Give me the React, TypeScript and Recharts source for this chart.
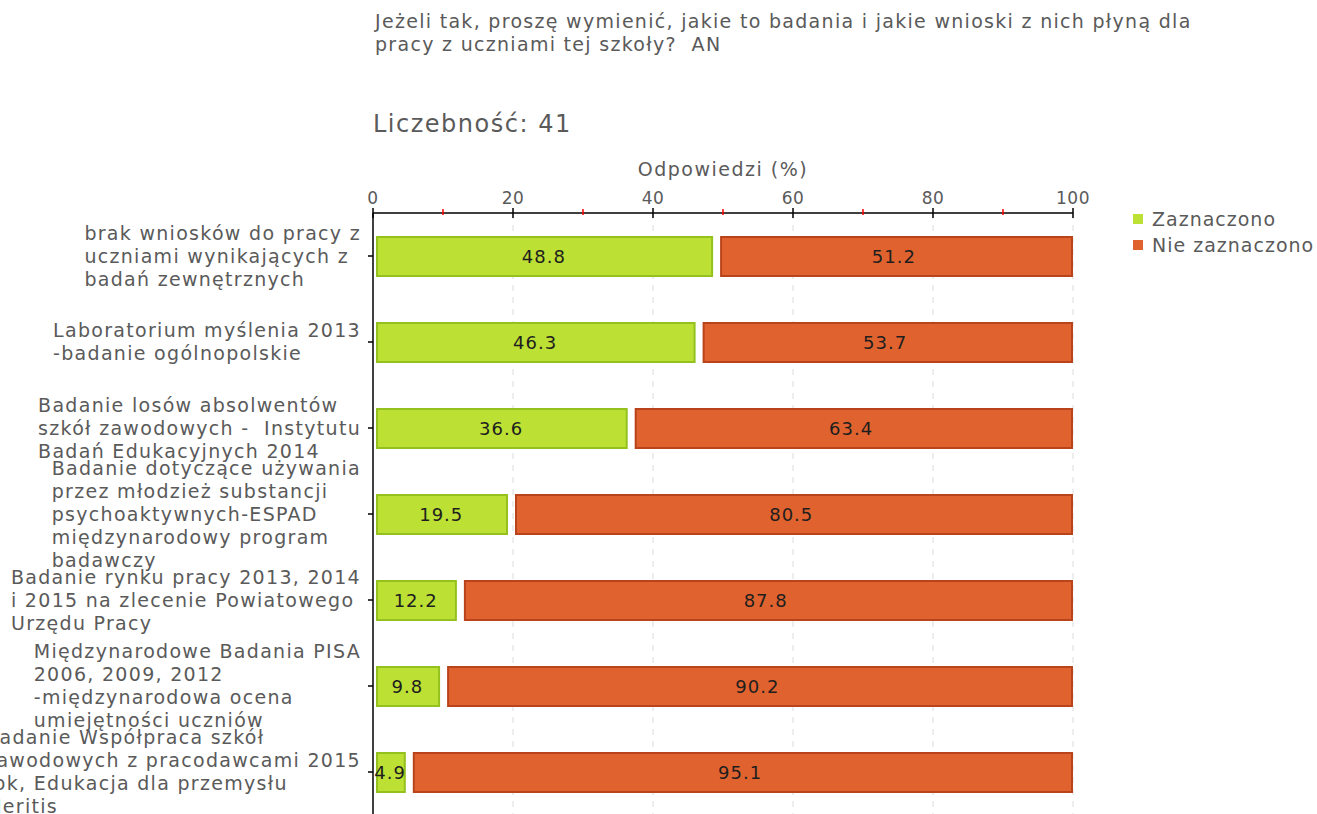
import React from "react";
import {
  BarChart,
  Bar,
  XAxis,
  YAxis,
  CartesianGrid,
  LabelList,
} from "recharts";

// question text + sample size
const titleLines = [
  "Jeżeli tak, proszę wymienić, jakie to badania i jakie wnioski z nich płyną dla",
  "pracy z uczniami tej szkoły?  AN",
];
const countLabel = "Liczebność: 41";
const axisTitle = "Odpowiedzi (%)";

// categories (line breaks as in the original wrapping)
const categories = [
  "brak wniosków do pracy z\nuczniami wynikających z\nbadań zewnętrznych",
  "Laboratorium myślenia 2013\n-badanie ogólnopolskie",
  "Badanie losów absolwentów\nszkół zawodowych -  Instytutu\nBadań Edukacyjnych 2014",
  "Badanie dotyczące używania\nprzez młodzież substancji\npsychoaktywnych-ESPAD\nmiędzynarodowy program\nbadawczy",
  "Badanie rynku pracy 2013, 2014\ni 2015 na zlecenie Powiatowego\nUrzędu Pracy",
  "Międzynarodowe Badania PISA\n2006, 2009, 2012\n-międzynarodowa ocena\numiejętności uczniów",
  "Badanie Współpraca szkół\nzawodowych z pracodawcami 2015\nrok, Edukacja dla przemysłu\nMeritis",
];
const zaznaczono = [48.8, 46.3, 36.6, 19.5, 12.2, 9.8, 4.9];
const nieZaznaczono = [51.2, 53.7, 63.4, 80.5, 87.8, 90.2, 95.1];

const xTicks = [0, 10, 20, 30, 40, 50, 60, 70, 80, 90, 100];
const gridValues = [20, 40, 60, 80, 100];

const seriesNames = ["Zaznaczono", "Nie zaznaczono"];

const data = categories.map((name, i) => ({
  name,
  Zaznaczono: zaznaczono[i],
  "Nie zaznaczono": nieZaznaczono[i],
}));

const FONT = '"DejaVu Sans", Verdana, sans-serif';
const TEXT = "#5a5a5a";
const GREEN = "#bde034";
const GREEN_EDGE = "#94c11e";
const ORANGE = "#e0632f";
const ORANGE_EDGE = "#b9441b";
const LABEL_SPACING = 1.3;

// measure label lines so each block is left aligned but hugs the axis
const ctx = document.createElement("canvas").getContext("2d")!;
ctx.font = `19px ${FONT}`;
(ctx as any).letterSpacing = `${LABEL_SPACING}px`;
const textWidth = (s: string) => ctx.measureText(s).width;

const CategoryTick = (props: any) => {
  const { x, y, payload } = props;
  const lines: string[] = String(payload.value).split("\n");
  const w = Math.max(...lines.map(textWidth));
  const lh = 23;
  const y0 = y - ((lines.length - 1) * lh) / 2;
  return (
    <g>
      {lines.map((l, i) => (
        <text
          key={i}
          x={x - w}
          y={y0 + i * lh}
          dy="0.36em"
          fontSize={19}
          letterSpacing={LABEL_SPACING}
          fill={TEXT}
          style={{ whiteSpace: "pre" }}>
          {l}
        </text>
      ))}
    </g>
  );
};

// top axis: black majors with labels, short red minors
const ValueTick = (props: any) => {
  const { x, y, payload } = props;
  const v = payload.value as number;
  if (v % 20 !== 0) {
    return <line x1={x} x2={x} y1={y - 4} y2={y + 2} stroke="#ff0000" strokeWidth={1.5} />;
  }
  return (
    <g>
      <line x1={x} x2={x} y1={y - 5} y2={y + 5} stroke="#000" strokeWidth={1.5} />
      <text x={x} y={y - 9} textAnchor="middle" fontSize={17} letterSpacing={0.5} fill={TEXT}>
        {v}
      </text>
    </g>
  );
};

const GreenBar = (p: any) => {
  const left = p.x + 3;
  const right = p.x + p.width - 1.5;
  return (
    <rect
      x={left + 1}
      y={p.y + 1}
      width={Math.max(right - left - 2, 0)}
      height={p.height - 2}
      fill={GREEN}
      stroke={GREEN_EDGE}
      strokeWidth={2}
    />
  );
};

const OrangeBar = (p: any) => {
  const left = p.x + 5.5;
  const right = p.x + p.width;
  return (
    <rect
      x={left + 1}
      y={p.y + 1}
      width={Math.max(right - left - 2, 0)}
      height={p.height - 2}
      fill={ORANGE}
      stroke={ORANGE_EDGE}
      strokeWidth={2}
    />
  );
};

export default function App() {
  return (
    <div
      style={{
        position: "absolute",
        left: 0,
        top: 0,
        width: 1317,
        height: 814,
        overflow: "hidden",
        background: "#fff",
        fontFamily: FONT,
      }}>
      <div
        style={{
          position: "absolute",
          left: 375,
          top: 10,
          fontSize: 19,
          lineHeight: "23px",
          letterSpacing: 1.3,
          color: TEXT,
          whiteSpace: "pre",
        }}>
        {titleLines.join("\n")}
      </div>
      <div
        style={{
          position: "absolute",
          left: 373,
          top: 110,
          fontSize: 24,
          letterSpacing: 1.5,
          color: TEXT,
          whiteSpace: "pre",
        }}>
        {countLabel}
      </div>
      <div
        style={{
          position: "absolute",
          left: 1133,
          top: 206,
          fontSize: 19,
          letterSpacing: 1,
          color: TEXT,
        }}>
        {seriesNames.map((n, i) => (
          <div key={n} style={{ display: "flex", alignItems: "center", height: 26 }}>
            <span
              style={{
                width: 10,
                height: 10,
                marginRight: 9,
                background: i === 0 ? GREEN : ORANGE,
                display: "inline-block",
              }}
            />
            <span>{n}</span>
          </div>
        ))}
      </div>
      <BarChart
        width={1317}
        height={830}
        data={data}
        layout="vertical"
        barSize={41}
        margin={{ top: 157, right: 244, left: 13, bottom: 15 }}
        style={{ fontFamily: FONT }}>
        <CartesianGrid
          horizontal={false}
          verticalValues={gridValues}
          stroke="#dcdcdc"
          strokeDasharray="6 6"
        />
        <XAxis
          type="number"
          orientation="top"
          domain={[0, 100]}
          ticks={xTicks}
          interval={0}
          height={56}
          tickSize={0}
          tickMargin={0}
          tickLine={false}
          axisLine={{ stroke: "#000", strokeWidth: 1.5 }}
          tick={<ValueTick />}
          label={{
            value: axisTitle,
            position: "insideTop",
            offset: 6,
            fill: TEXT,
            fontSize: 19,
            letterSpacing: 1.5,
          }}
        />
        <YAxis
          type="category"
          dataKey="name"
          width={360}
          interval={0}
          tickSize={5}
          tickMargin={7}
          tickLine={{ stroke: "#000", strokeWidth: 1.5 }}
          axisLine={{ stroke: "#000", strokeWidth: 1.5 }}
          tick={<CategoryTick />}
        />
        <Bar dataKey="Zaznaczono" stackId="a" fill={GREEN} shape={<GreenBar />} isAnimationActive={false}>
          <LabelList dataKey="Zaznaczono" position="center" fill="#1e1e1e" fontSize={18} letterSpacing={1} />
        </Bar>
        <Bar dataKey="Nie zaznaczono" stackId="a" fill={ORANGE} shape={<OrangeBar />} isAnimationActive={false}>
          <LabelList dataKey="Nie zaznaczono" position="center" fill="#1e1e1e" fontSize={18} letterSpacing={1} />
        </Bar>
      </BarChart>
    </div>
  );
}
